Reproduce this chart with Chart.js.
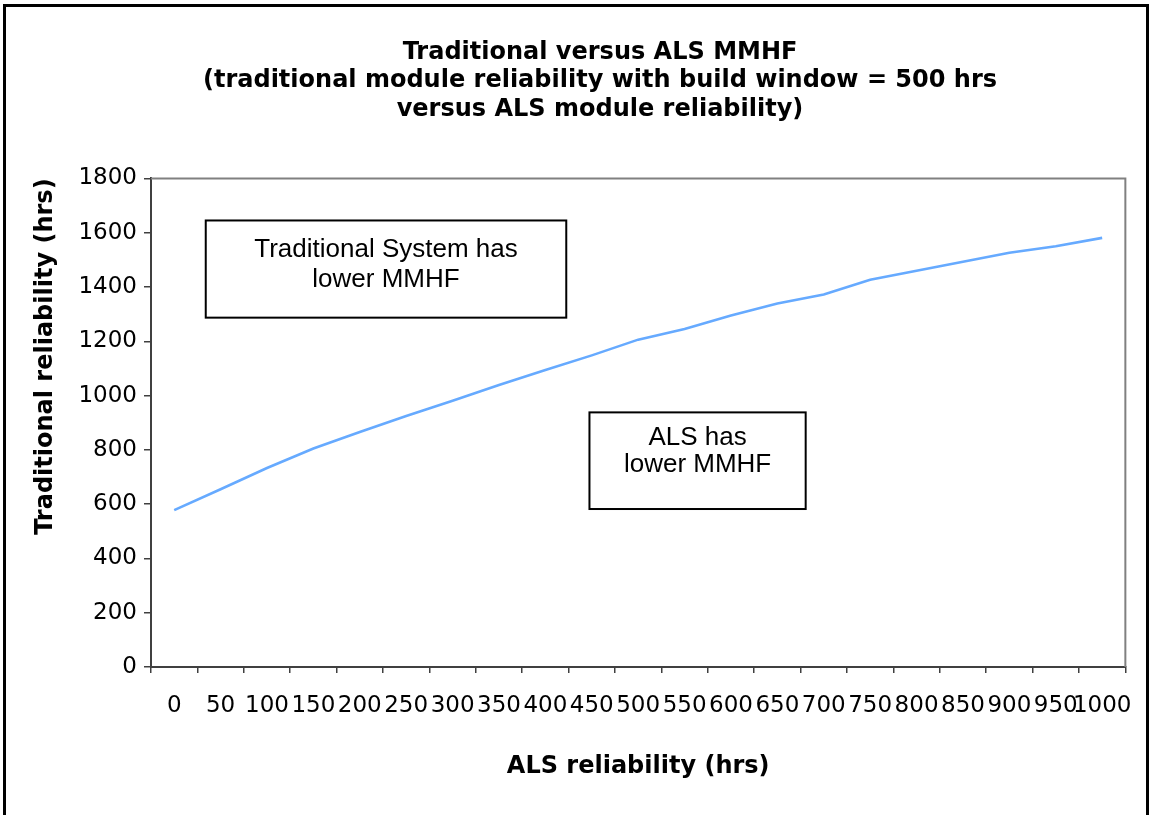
<!DOCTYPE html>
<html>
<head>
<meta charset="utf-8">
<title>Traditional versus ALS MMHF</title>
<script src="https://cdn.jsdelivr.net/npm/chart.js@4/dist/chart.umd.min.js"></script>
<style>
  html, body { margin: 0; padding: 0; background: #fff; }
  #wrap { width: 1151px; height: 815px; }
</style>
</head>
<body>
<div id="wrap"><canvas id="mmhf" width="1151" height="815"></canvas></div>
<script>
// ALS reliability (hrs) categories
const alsHours = ['0', '50', '100', '150', '200', '250', '300', '350', '400', '450', '500',
  '550', '600', '650', '700', '750', '800', '850', '900', '950', '1000'];

// traditional reliability (hrs), build window = 500 hrs
const traditionalHours = [578, 655, 733, 805, 866, 925, 981, 1039, 1094, 1148, 1206,
  1245, 1295, 1339, 1372, 1427, 1460, 1493, 1526, 1550, 1581];

const yMin = 0;
const yMax = 1800;
const yStep = 200;

const titleLines = [
  'Traditional versus ALS MMHF',
  '(traditional module reliability with build window = 500 hrs',
  'versus ALS module reliability)'
];

const noteTexts = [
  ['Traditional System has', 'lower MMHF'],
  ['ALS has', 'lower MMHF']
];

const BOLD = { family: 'DejaVu Sans', weight: 'bold' };

// text boxes are placed in data units (category index / hours)
const notePlacement = [
  { x0: 0.68, x1: 8.45, y0: 1645, y1: 1287, dy: -4, gap: 30 },
  { x0: 8.95, x1: 13.61, y0: 938, y1: 582, dy: -9, gap: 27 }
];

const chartDecor = {
  id: 'chartDecor',
  beforeDraw(chart) {
    const ctx = chart.ctx;
    ctx.save();
    ctx.fillStyle = '#fff';
    ctx.fillRect(0, 0, chart.width, chart.height);
    ctx.restore();
  },
  afterDraw(chart) {
    const { ctx, chartArea: a, scales: { x, y } } = chart;
    ctx.save();

    // plot area border (top and right)
    ctx.strokeStyle = '#808080';
    ctx.lineWidth = 2;
    ctx.beginPath();
    ctx.moveTo(a.left, a.top);
    ctx.lineTo(a.right, a.top);
    ctx.lineTo(a.right, a.bottom);
    ctx.stroke();

    // text boxes
    ctx.font = '26px "Liberation Sans", Arial, sans-serif';
    ctx.textAlign = 'center';
    ctx.textBaseline = 'middle';
    notePlacement.forEach((p, i) => {
      const left = x.getPixelForValue(p.x0);
      const right = x.getPixelForValue(p.x1);
      const top = y.getPixelForValue(p.y0);
      const bottom = y.getPixelForValue(p.y1);
      ctx.fillStyle = '#fff';
      ctx.fillRect(left, top, right - left, bottom - top);
      ctx.strokeStyle = '#000';
      ctx.lineWidth = 2;
      ctx.strokeRect(left, top, right - left, bottom - top);
      ctx.fillStyle = '#000';
      const cx = (left + right) / 2;
      const cy = (top + bottom) / 2 + p.dy;
      const lines = noteTexts[i];
      lines.forEach((t, k) => {
        ctx.fillText(t, cx, cy + (k - (lines.length - 1) / 2) * p.gap);
      });
    });

    // outer frame
    ctx.strokeStyle = '#000';
    ctx.lineWidth = 3;
    ctx.beginPath();
    ctx.moveTo(4.5, chart.height);
    ctx.lineTo(4.5, 5.5);
    ctx.lineTo(1147.5, 5.5);
    ctx.lineTo(1147.5, chart.height);
    ctx.stroke();
    ctx.restore();
  }
};

const ctx = document.getElementById('mmhf').getContext('2d');
new Chart(ctx, {
  type: 'line',
  data: {
    labels: alsHours,
    datasets: [{
      label: 'Traditional reliability',
      data: traditionalHours,
      borderColor: '#66aaff',
      borderWidth: 2.6,
      pointRadius: 0,
      tension: 0,
      fill: false
    }]
  },
  options: {
    responsive: false,
    animation: false,
    layout: { padding: { top: 0, right: 24, bottom: 0, left: 73 } },
    plugins: {
      legend: { display: false },
      tooltip: { enabled: false },
      title: {
        display: true,
        text: titleLines,
        color: '#000',
        font: { ...BOLD, size: 24, lineHeight: 1.2 },
        padding: { top: 38, bottom: 54 }
      }
    },
    scales: {
      x: {
        type: 'category',
        offset: true,
        grid: {
          offset: true,
          drawOnChartArea: false,
          tickLength: 6,
          color: '#404040',
          lineWidth: 1.5
        },
        border: { color: '#404040', width: 2 },
        ticks: {
          autoSkip: false,
          maxRotation: 0,
          minRotation: 0,
          padding: 19,
          color: '#000',
          font: { family: 'DejaVu Sans', size: 23 }
        },
        title: {
          display: true,
          text: 'ALS reliability (hrs)',
          color: '#000',
          font: { ...BOLD, size: 24, lineHeight: 1.2 },
          padding: { top: 0, bottom: 34 }
        },
        afterFit(scale) { scale.height = 148; }
      },
      y: {
        min: yMin,
        max: yMax,
        grid: {
          drawOnChartArea: false,
          tickLength: 7,
          color: '#404040',
          lineWidth: 1.5
        },
        border: { color: '#404040', width: 2 },
        ticks: {
          stepSize: yStep,
          padding: 7,
          color: '#000',
          font: { family: 'DejaVu Sans', size: 23 },
          callback: (value) => String(value)
        },
        title: {
          display: true,
          text: 'Traditional reliability (hrs)',
          align: 'end',
          color: '#000',
          font: { ...BOLD, size: 24, lineHeight: 1.2 },
          padding: { top: -42, bottom: 0 }
        },
        afterFit(scale) { scale.width = 78; }
      }
    }
  },
  plugins: [chartDecor]
});
</script>
</body>
</html>
